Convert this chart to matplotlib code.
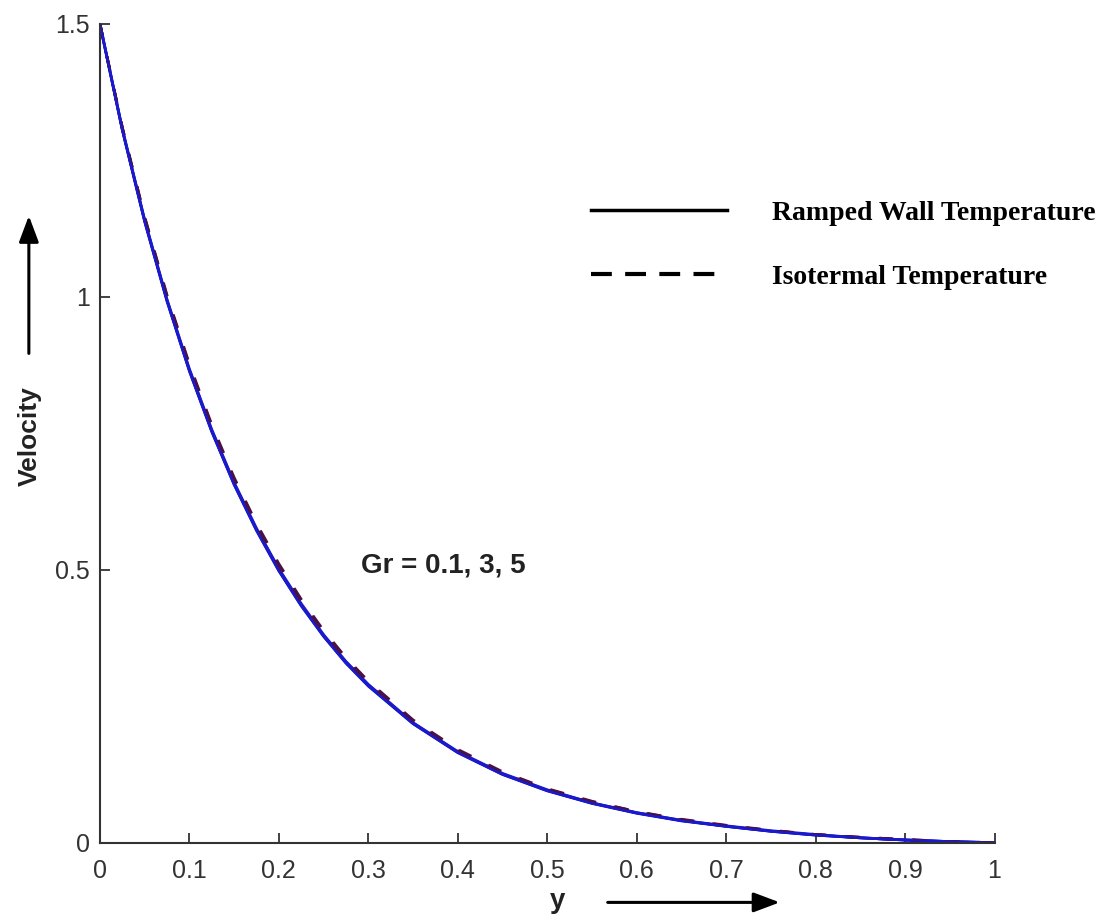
import matplotlib
matplotlib.use("Agg")
import matplotlib.pyplot as plt
from matplotlib.lines import Line2D

plt.rcParams['font.family'] = ['Liberation Sans', 'DejaVu Sans']

# positions along the channel
y_pos = [0, 0.025, 0.05, 0.075, 0.1, 0.125, 0.15, 0.175, 0.2, 0.225, 0.25, 0.275,
         0.3, 0.35, 0.4, 0.45, 0.5, 0.55, 0.6, 0.65, 0.7, 0.75, 0.8, 0.85, 0.9, 0.95, 1.0]

# ramped wall temperature, Gr = 0.1, 3, 5
ramped_gr01 = [1.500, 1.306, 1.138, 0.992, 0.864, 0.753, 0.656, 0.572, 0.498, 0.434, 0.378, 0.329,
               0.287, 0.218, 0.165, 0.125, 0.095, 0.072, 0.054, 0.040, 0.030, 0.021, 0.014, 0.009, 0.005, 0.002, 0.000]
ramped_gr3 = [1.500, 1.307, 1.140, 0.994, 0.866, 0.755, 0.658, 0.574, 0.500, 0.436, 0.380, 0.331,
              0.289, 0.219, 0.166, 0.126, 0.096, 0.073, 0.055, 0.041, 0.030, 0.021, 0.014, 0.009, 0.005, 0.002, 0.000]
ramped_gr5 = [1.500, 1.308, 1.141, 0.995, 0.868, 0.757, 0.660, 0.576, 0.502, 0.438, 0.381, 0.332,
              0.290, 0.220, 0.167, 0.127, 0.097, 0.073, 0.055, 0.041, 0.031, 0.022, 0.015, 0.009, 0.005, 0.002, 0.000]

# isothermal temperature, Gr = 0.1, 3, 5
iso_gr01 = [1.500, 1.309, 1.143, 0.998, 0.871, 0.760, 0.663, 0.579, 0.505, 0.440, 0.383, 0.334,
            0.291, 0.221, 0.168, 0.127, 0.097, 0.074, 0.056, 0.042, 0.031, 0.022, 0.015, 0.009, 0.005, 0.002, 0.000]
iso_gr3 = [1.500, 1.310, 1.145, 1.001, 0.874, 0.763, 0.666, 0.582, 0.508, 0.443, 0.386, 0.337,
           0.294, 0.223, 0.169, 0.128, 0.098, 0.075, 0.057, 0.042, 0.031, 0.022, 0.015, 0.010, 0.006, 0.002, 0.000]
iso_gr5 = [1.500, 1.311, 1.147, 1.003, 0.877, 0.766, 0.669, 0.585, 0.511, 0.446, 0.389, 0.339,
           0.296, 0.225, 0.171, 0.130, 0.099, 0.076, 0.057, 0.043, 0.032, 0.023, 0.015, 0.010, 0.006, 0.002, 0.000]

x_ticks = [0, 0.1, 0.2, 0.3, 0.4, 0.5, 0.6, 0.7, 0.8, 0.9, 1]
x_ticklabels = ['0', '0.1', '0.2', '0.3', '0.4', '0.5', '0.6', '0.7', '0.8', '0.9', '1']
y_ticks = [0, 0.5, 1, 1.5]
y_ticklabels = ['0', '0.5', '1', '1.5']


def main():
    fig = plt.figure(figsize=(11.1, 9.18), dpi=100)
    ax = fig.add_axes([0.090, 0.082, 0.806, 0.892])

    for v in [ramped_gr01, ramped_gr3, ramped_gr5]:
        ax.plot(y_pos, v, color='#1a1acc', lw=2.0, solid_joinstyle='round')
    for v in [iso_gr01, iso_gr3, iso_gr5]:
        ax.plot(y_pos, v, color='#4a1048', lw=2.0, dashes=(5, 7))
    # ramped curve on top, as in the original
    ax.plot(y_pos, ramped_gr01, color='#1a1acc', lw=1.6)

    ax.set_xlim(0, 1)
    ax.set_ylim(0, 1.5)
    ax.set_xticks(x_ticks)
    ax.set_xticklabels(x_ticklabels)
    ax.set_yticks(y_ticks)
    ax.set_yticklabels(y_ticklabels)
    ax.tick_params(direction='in', length=7, width=1.3, labelsize=18,
                   labelcolor='#333333', color='#333333', pad=7)
    ax.tick_params(axis='x', pad=12)
    for s in ['top', 'right']:
        ax.spines[s].set_visible(False)
    for s in ['left', 'bottom']:
        ax.spines[s].set_linewidth(1.5)
        ax.spines[s].set_color('#333333')

    # legend
    handles = [Line2D([], [], color='black', lw=2.5),
               Line2D([], [], color='black', lw=3, dashes=(5, 3.2))]
    ax.legend(handles, ['Ramped Wall Temperature', 'Isotermal Temperature'],
              loc='upper left', bbox_to_anchor=(0.521, 0.815), frameon=False,
              handlelength=4.9, handletextpad=1.6, labelspacing=1.4,
              prop={'family': 'Liberation Serif', 'weight': 'bold', 'size': 20})

    ax.text(0.292, 0.33, 'Gr = 0.1, 3, 5', transform=ax.transAxes,
            fontsize=20, fontweight='bold', color='#222222')

    # axis labels with arrows
    fig.text(0.027, 0.525, 'Velocity', rotation=90, fontsize=19, fontweight='bold',
             ha='center', va='center', color='#222222')
    ax.annotate('', xy=(0.026, 0.768), xytext=(0.026, 0.612), xycoords='figure fraction',
                arrowprops=dict(arrowstyle='-|>,head_length=1.6,head_width=0.6', lw=2.2, color='black'))
    fig.text(0.502, 0.018, 'y', fontsize=20, fontweight='bold', ha='center', va='center',
             color='#222222')
    ax.annotate('', xy=(0.705, 0.017), xytext=(0.545, 0.017), xycoords='figure fraction',
                arrowprops=dict(arrowstyle='-|>,head_length=1.6,head_width=0.6', lw=2.2, color='black'))

    fig.savefig('out.png', dpi=100)


if __name__ == "__main__":
    main()
